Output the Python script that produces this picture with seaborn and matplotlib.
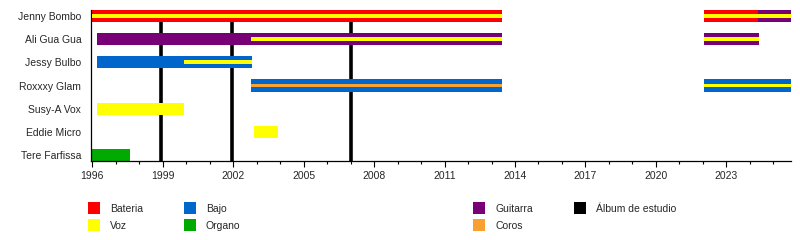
import matplotlib
matplotlib.use("Agg")
import matplotlib.pyplot as plt
from matplotlib.patches import Rectangle
import seaborn as sns
import pandas as pd

# ---- data ----
members = ["Jenny Bombo", "Ali Gua Gua", "Jessy Bulbo", "Roxxxy Glam",
           "Susy-A Vox", "Eddie Micro", "Tere Farfissa"]

period_member = ["Jenny Bombo", "Jenny Bombo", "Jenny Bombo",
                 "Ali Gua Gua", "Ali Gua Gua", "Ali Gua Gua",
                 "Jessy Bulbo", "Jessy Bulbo",
                 "Roxxxy Glam", "Roxxxy Glam",
                 "Susy-A Vox", "Eddie Micro", "Tere Farfissa"]
period_start = [1996.0, 2022.05, 2024.35,
                1996.2, 2002.75, 2022.05,
                1996.2, 1999.9,
                2002.75, 2022.05,
                1996.2, 2002.9, 1996.0]
period_end = [2013.45, 2024.35, 2025.75,
              2002.75, 2013.45, 2024.4,
              1999.9, 2002.8,
              2013.45, 2025.75,
              1999.9, 2003.9, 1997.6]
period_role = ["Bateria", "Bateria", "Guitarra",
               "Guitarra", "Guitarra", "Guitarra",
               "Bajo", "Bajo",
               "Bajo", "Bajo",
               "Voz", "Voz", "Organo"]
period_inner = ["Voz", "Voz", "Voz",
                None, "Voz", "Voz",
                None, "Voz",
                "Coros", "Voz",
                None, None, None]

albums = [1998.95, 2001.95, 2007.0]

role_colors = {"Bateria": "#FF0000", "Voz": "#FFFF00", "Bajo": "#0066CC",
               "Organo": "#00AA00", "Guitarra": "#770077", "Coros": "#F8A030",
               "Álbum de estudio": "#000000"}

df = pd.DataFrame({"member": period_member, "start": period_start,
                   "end": period_end, "role": period_role, "inner": period_inner})
df["y"] = df["member"].map({m: i for i, m in enumerate(members)})
df["width"] = df["end"] - df["start"]

sns.set_theme(style="white")
plt.rcParams["font.family"] = ["Liberation Sans", "DejaVu Sans"]

fig = plt.figure(figsize=(8, 2.4), dpi=100)
W, H = 800, 240
ax = fig.add_axes([91 / W, (H - 161) / H, 700 / W, 151 / H])

# album lines behind bars
for a in albums:
    ax.axvline(a, color="black", lw=2.6, zorder=1)

# outer bars
ax.barh(df["y"], df["width"], left=df["start"], height=0.52,
        color=[role_colors[r] for r in df["role"]], linewidth=0, zorder=2)
# inner stripes
inner = df[df["inner"].notna()]
ax.barh(inner["y"], inner["width"], left=inner["start"], height=0.17,
        color=[role_colors[r] for r in inner["inner"]], linewidth=0, zorder=3)

ax.set_xlim(1995.95, 2025.75)
ax.set_ylim(6.26, -0.26)
ax.set_yticks(range(len(members)))
ax.set_yticklabels(members, fontsize=7.5)
ax.set_xticks(list(range(1996, 2025, 3)))
ax.set_xticklabels([str(y) for y in range(1996, 2025, 3)], fontsize=7.5)
ax.set_xticks(list(range(1996, 2026)), minor=True)
ax.tick_params(axis="x", which="major", direction="out", length=4, width=0.8,
               color="black", pad=3, bottom=True)
ax.tick_params(axis="x", which="minor", direction="out", length=2.5, width=0.8,
               color="black", bottom=True)
ax.tick_params(axis="y", length=0, pad=7)
for s in ["top", "right"]:
    ax.spines[s].set_visible(False)
for s in ["left", "bottom"]:
    ax.spines[s].set_color("black")
    ax.spines[s].set_linewidth(0.9)
ax.grid(False)

# legend (figure pixel positions)
legend_items = [("Bateria", 88, 202), ("Voz", 88, 219),
                ("Bajo", 184, 202), ("Organo", 184, 219),
                ("Guitarra", 473, 202), ("Coros", 473, 219),
                ("Álbum de estudio", 574, 202)]
for name, px, py in legend_items:
    fig.patches.append(Rectangle((px / W, 1 - (py + 12) / H), 12 / W, 12 / H,
                                 transform=fig.transFigure, facecolor=role_colors[name],
                                 edgecolor="none"))
    fig.text((px + 22) / W, 1 - (py + 7) / H, name, fontsize=7.5,
             va="center", ha="left")

fig.savefig("out.png", dpi=100, facecolor="white")
